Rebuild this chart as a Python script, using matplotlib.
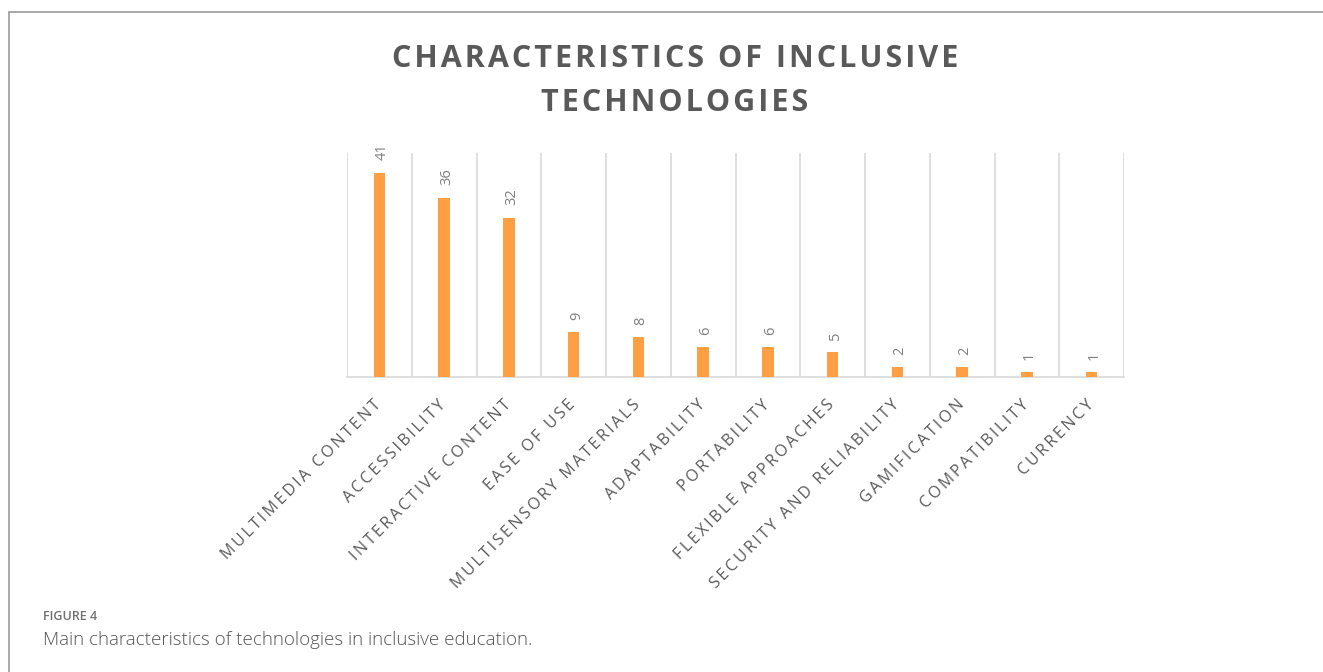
import matplotlib.pyplot as plt
from matplotlib.patches import Rectangle
from matplotlib.transforms import ScaledTranslation

categories = ['MULTIMEDIA CONTENT', 'ACCESSIBILITY', 'INTERACTIVE CONTENT',
              'EASE OF USE', 'MULTISENSORY MATERIALS', 'ADAPTABILITY',
              'PORTABILITY', 'FLEXIBLE APPROACHES', 'SECURITY AND RELIABILITY',
              'GAMIFICATION', 'COMPATIBILITY', 'CURRENCY']
counts = [41, 36, 32, 9, 8, 6, 6, 5, 2, 2, 1, 1]

title = 'CHARACTERISTICS OF INCLUSIVE\nTECHNOLOGIES'
fig_label = 'FIGURE 4'
caption = 'Main characteristics of technologies in inclusive education.'

plt.rcParams['font.family'] = ['Open Sans', 'DejaVu Sans']


def spaced(s, sp='\u200a'):
    # fake letter spacing
    return '\n'.join(sp.join(line) for line in s.split('\n'))


fig = plt.figure(figsize=(13.23, 6.72), dpi=100)

# frame around the figure panel (left and top edges visible)
fig.patches.append(Rectangle((9 / 1323, -0.05), 1.1, (672 - 12) / 672 + 0.05,
                             transform=fig.transFigure, fill=False,
                             edgecolor='#9a9a9a', linewidth=1.2))

ax = fig.add_axes([347 / 1323, (672 - 377) / 672, (1124 - 347) / 1323, (377 - 153) / 672])

x = list(range(len(categories)))
ax.bar(x, counts, width=0.18, color='#FF9F43', zorder=3)

for xi, v in zip(x, counts):
    ax.annotate(str(v), (xi, v), xytext=(2, 9), textcoords='offset points',
                rotation=90, ha='center', va='bottom', fontsize=10.5, color='#7f7f7f')

ax.set_xlim(-0.5, len(categories) - 0.5)
ax.set_ylim(0, 45)
for b in [i - 0.5 for i in range(len(categories) + 1)]:
    ax.axvline(b, color='#d9d9d9', linewidth=1.2, zorder=1)

for s in ['top', 'right', 'left']:
    ax.spines[s].set_visible(False)
ax.spines['bottom'].set_color('#d9d9d9')
ax.spines['bottom'].set_linewidth(1.2)
ax.set_yticks([])
ax.set_xticks(x)
ax.set_xticklabels([spaced(c, '\u2009') for c in categories], rotation=45, ha='right',
                   va='top', rotation_mode='anchor', fontsize=11.5, color='#595959')
ax.tick_params(axis='x', length=0, pad=13)
# nudge labels a little left/down
shift = ScaledTranslation(-6 / 100, -2 / 100, fig.dpi_scale_trans)
for lbl in ax.get_xticklabels():
    lbl.set_transform(lbl.get_transform() + shift)

fig.text(0.51, 1 - 81 / 672, spaced(title), ha='center', va='center', fontsize=22,
         fontweight='bold', color='#595959', linespacing=1.6)

fig.text(43 / 1323, 1 - 617 / 672, fig_label, ha='left', va='center',
         fontsize=9, fontweight='semibold', color='#707070')
fig.text(43 / 1323, 1 - 640 / 672, caption, ha='left', va='center',
         fontsize=13.5, fontweight='light', color='#555555')

fig.savefig('out.png', dpi=100)
